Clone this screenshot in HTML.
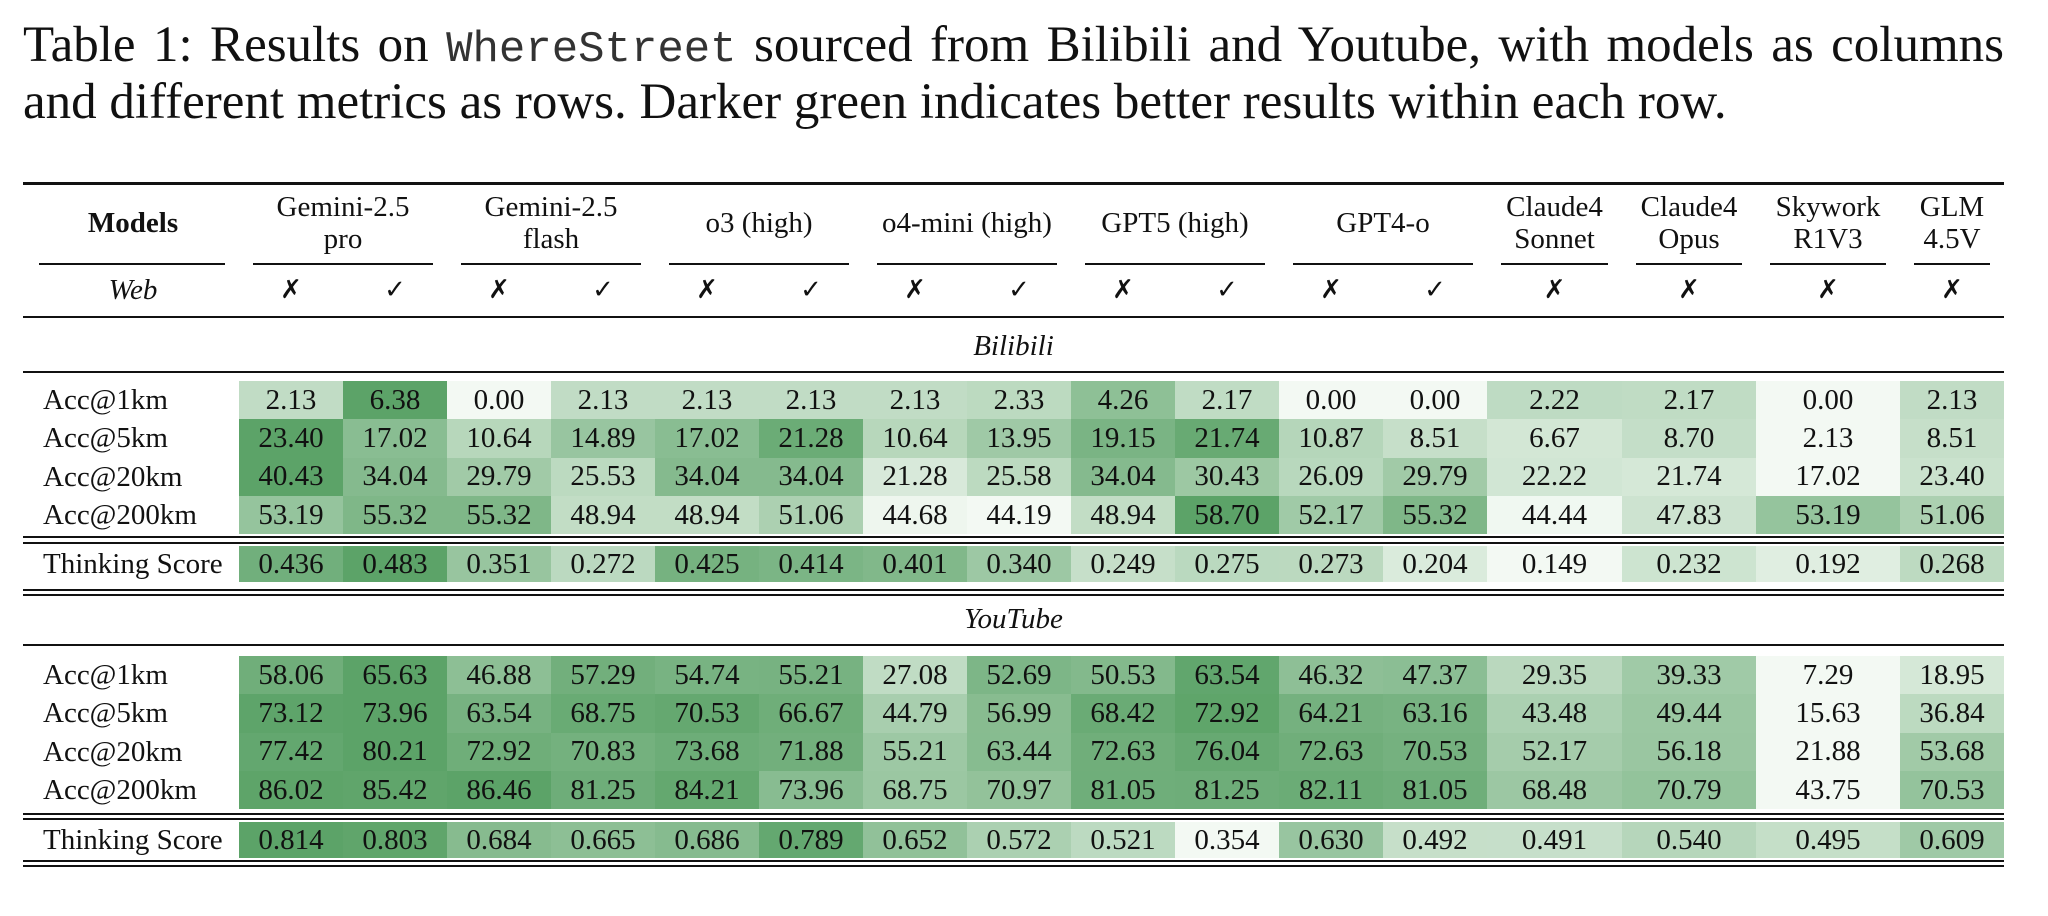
<!DOCTYPE html>
<html><head><meta charset="utf-8">
<style>
html,body{margin:0;padding:0;background:#fff;}
body{width:2048px;height:916px;position:relative;overflow:hidden;font-family:"Liberation Serif",serif;color:#111;}
#title{position:absolute;left:23px;top:19px;width:1981px;font-size:51px;line-height:52px;text-align:justify;}
.mono{font-family:"Liberation Mono",monospace;font-size:44px;color:#333}
.rule{position:absolute;background:#111;height:2px}
.t{position:absolute;text-align:center;font-size:29px;line-height:32px;white-space:nowrap}
.cell{position:absolute;display:flex;align-items:center;justify-content:center;font-size:29px}
</style></head><body>
<div id="title">Table 1: Results on <span class="mono">WhereStreet</span> sourced from Bilibili and Youtube, with models as columns and different metrics as rows. Darker green indicates better results within each row.</div>
<div id="tbl"></div>
<script>
const models=["Gemini-2.5<br>pro","Gemini-2.5<br>flash","o3 (high)","o4-mini (high)","GPT5 (high)","GPT4-o","Claude4<br>Sonnet","Claude4<br>Opus","Skywork<br>R1V3","GLM<br>4.5V"];
const webFlags=["✗","✓","✗","✓","✗","✓","✗","✓","✗","✓","✗","✓","✗","✗","✗","✗"];
const metrics=["Acc@1km","Acc@5km","Acc@20km","Acc@200km"];
const biliAcc=[
["2.13","6.38","0.00","2.13","2.13","2.13","2.13","2.33","4.26","2.17","0.00","0.00","2.22","2.17","0.00","2.13"],
["23.40","17.02","10.64","14.89","17.02","21.28","10.64","13.95","19.15","21.74","10.87","8.51","6.67","8.70","2.13","8.51"],
["40.43","34.04","29.79","25.53","34.04","34.04","21.28","25.58","34.04","30.43","26.09","29.79","22.22","21.74","17.02","23.40"],
["53.19","55.32","55.32","48.94","48.94","51.06","44.68","44.19","48.94","58.70","52.17","55.32","44.44","47.83","53.19","51.06"]];
const biliThink=["0.436","0.483","0.351","0.272","0.425","0.414","0.401","0.340","0.249","0.275","0.273","0.204","0.149","0.232","0.192","0.268"];
const ytAcc=[
["58.06","65.63","46.88","57.29","54.74","55.21","27.08","52.69","50.53","63.54","46.32","47.37","29.35","39.33","7.29","18.95"],
["73.12","73.96","63.54","68.75","70.53","66.67","44.79","56.99","68.42","72.92","64.21","63.16","43.48","49.44","15.63","36.84"],
["77.42","80.21","72.92","70.83","73.68","71.88","55.21","63.44","72.63","76.04","72.63","70.53","52.17","56.18","21.88","53.68"],
["86.02","85.42","86.46","81.25","84.21","73.96","68.75","70.97","81.05","81.25","82.11","81.05","68.48","70.79","43.75","70.53"]];
const ytThink=["0.814","0.803","0.684","0.665","0.686","0.789","0.652","0.572","0.521","0.354","0.630","0.492","0.491","0.540","0.495","0.609"];

const T=document.getElementById('tbl');
const X0=23,X1=2004,LAB=239;
const edges=[];for(let i=0;i<=12;i++)edges.push(LAB+i*104);
edges.push(1622,1756,1900,2004);
function rule(y,x0,x1,h,name){const d=document.createElement('div');d.className='rule';


d.style.cssText=`left:${x0}px;width:${x1-x0}px;top:${y}px;height:${h}px`;T.appendChild(d);return d;}
function text(html,x0,x1,cy,name,extra){const d=document.createElement('div');d.className='t';


d.innerHTML=html;d.style.left=x0+'px';d.style.width=(x1-x0)+'px';d.style.top=(cy-16)+'px';if(extra)d.style.cssText+=extra;T.appendChild(d);return d;}
function color(v,min,max){const t=max>min?(v-min)/(max-min):0;
const a=[243,249,243],b=[92,163,104];
return `rgb(${a.map((c,i)=>Math.round(c+(b[i]-c)*t)).join(',')})`;}
function dataRow(vals,label,top,h,name){
text(label,X0+20,LAB,top+h/2,name+'-label','text-align:left');
const nums=vals.map(Number);const mn=Math.min(...nums),mx=Math.max(...nums);
vals.forEach((v,i)=>{const d=document.createElement('div');d.className='cell';


d.style.cssText+=`left:${edges[i]}px;width:${edges[i+1]-edges[i]}px;top:${top}px;height:${h}px;background:${color(+v,mn,mx)}`;
d.textContent=v;T.appendChild(d);});}

rule(182,X0,X1,3,'top-rule');
text('<b>Models</b>',X0+14,LAB-10,223,'models-header');
rule(263,X0+16,LAB-14,2,'models-cmidrule');
models.forEach((m,k)=>{let x0,x1;if(k<6){x0=edges[2*k];x1=edges[2*k+2];}else{x0=edges[k+6];x1=edges[k+7];}
text(m,x0-10,x1+10,(m.includes('<br>')?223-16:223),'model-header-'+k,'line-height:32px');
rule(263,x0+14,x1-14,2,'model-cmidrule');});
text('<i>Web</i>',X0+14,LAB-10,290,'web-label');
webFlags.forEach((f,i)=>text(f,edges[i],edges[i+1],290,'web-flag','font-family:"DejaVu Sans",sans-serif;font-size:26px;font-weight:bold'));
rule(316,X0,X1,2,'header-rule');
text('<i>Bilibili</i>',X0,X1,346,'bilibili-section-title');
rule(371,X0,X1,2,'bilibili-rule');
const RH=38.3;
metrics.forEach((m,r)=>dataRow(biliAcc[r],m,381+r*RH,RH,'bilibili-'+m.toLowerCase().replace('@','-at-')));
rule(536,X0,X1,2,'bilibili-double-rule-a');rule(542,X0,X1,2,'bilibili-double-rule-b');
dataRow(biliThink,'Thinking Score',546,36,'bilibili-thinking-score');
rule(589,X0,X1,2,'bilibili-end-rule-a');rule(594,X0,X1,2,'bilibili-end-rule-b');
text('<i>YouTube</i>',X0,X1,619,'youtube-section-title');
rule(644,X0,X1,2,'youtube-rule');
metrics.forEach((m,r)=>dataRow(ytAcc[r],m,656+r*RH,RH,'youtube-'+m.toLowerCase().replace('@','-at-')));
rule(813,X0,X1,2,'youtube-double-rule-a');rule(818,X0,X1,2,'youtube-double-rule-b');
dataRow(ytThink,'Thinking Score',822,36,'youtube-thinking-score');
rule(860,X0,X1,2,'bottom-rule-a');rule(865,X0,X1,2,'bottom-rule-b');
</script>
</body></html>
